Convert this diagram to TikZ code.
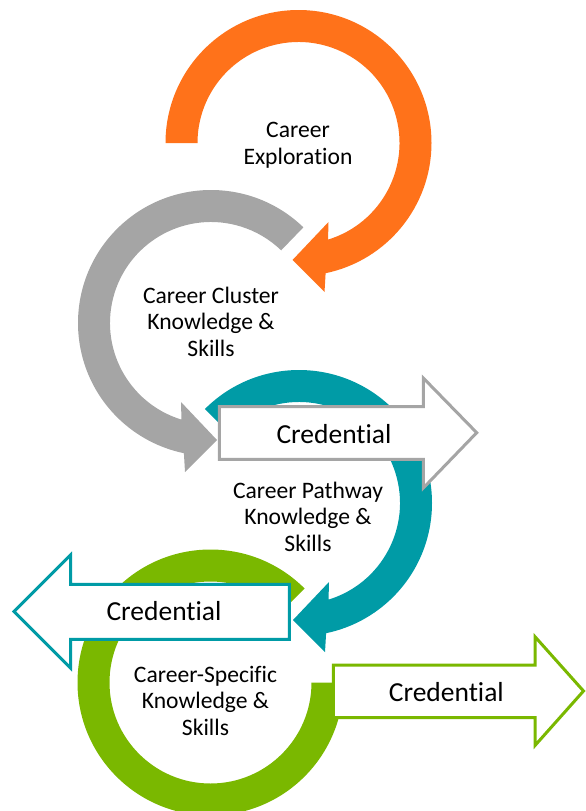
\documentclass[tikz,border=0pt]{standalone}
\usepackage{fontspec}
\setmainfont{Carlito}[Ligatures=NoCommon]
\definecolor{orangeC}{RGB}{255,114,26}
\definecolor{grayC}{RGB}{165,165,165}
\definecolor{tealC}{RGB}{0,155,166}
\definecolor{greenC}{RGB}{122,184,0}
\tikzset{
  label/.style={align=center, anchor=base, inner sep=0pt, font=\fontsize{23.6}{26.3}\selectfont},
  credtext/.style={anchor=base, inner sep=0pt, font=\fontsize{27.5}{30}\selectfont},
  credarrow/.style={fill=white, line width=3pt, miter limit=10, line join=miter}
}
\newcommand{\cwArrow}[3]{%
  \fill[#3] ($(#1)+(#2:133)$) arc[start angle=#2,end angle=-78.24,radius=133]
    -- ($(#1)+(26,-149)$) -- ($(#1)+(-6,-117)$) -- ($(#1)+(30,-79)$)
    -- ($(#1)+(-73:101)$) arc[start angle=-73,end angle=#2,radius=101] -- cycle;}
\newcommand{\ccwArrow}[3]{%
  \fill[#3] ($(#1)+(#2:133)$) arc[start angle=#2,end angle=258.24,radius=133]
    -- ($(#1)+(-26,-149)$) -- ($(#1)+(6,-117)$) -- ($(#1)+(-30,-79)$)
    -- ($(#1)+(253:101)$) arc[start angle=253,end angle=#2,radius=101] -- cycle;}
\usetikzlibrary{calc}
\begin{document}
\begin{tikzpicture}[x=1pt,y=1pt]
\useasboundingbox (0,0) rectangle (586,-811);
\coordinate (cO) at (298.5,-143);
\coordinate (cG) at (211,-323);
\coordinate (cT) at (299,-503);
\coordinate (cV) at (210.5,-682.5);
% orange
\cwArrow{cO}{180}{orangeC}
% gray
\ccwArrow{cG}{46}{grayC}
% teal
\cwArrow{cT}{135}{tealC}
% gray credential arrow
\draw[credarrow, draw=grayC] (219.3,-406.7) -- (423.3,-406.7) -- (423.3,-378) -- (476.7,-432.7)
  -- (423.3,-488) -- (423.3,-459.3) -- (219.3,-459.3) -- cycle;
% green ring
\fill[greenC] ($(cV)+(45:133)$) arc[start angle=45,end angle=360,radius=133]
  -- ($(cV)+(0:101)$) arc[start angle=360,end angle=45,radius=101] -- cycle;
% teal credential arrow
\draw[credarrow, draw=tealC] (289.3,-584.3) -- (70.5,-584.3) -- (70.5,-555) -- (14,-611.5)
  -- (70.5,-668) -- (70.5,-639.3) -- (289.3,-639.3) -- cycle;
% green credential arrow
\draw[credarrow, draw=greenC] (333.3,-665) -- (535,-665) -- (535,-636.7) -- (583.5,-691)
  -- (535,-745.5) -- (535,-717.7) -- (333.3,-717.7) -- cycle;
% texts
\node[credtext] (cr1) at (334,-443) {Credential};
\node[credtext] (cr2) at (164,-620) {Credential};
\node[credtext] (cr3) at (446.3,-701.7) {Credential};
\node[label] (l1) at (298,-164) {Career\\Exploration};
\node[label] (l2) at (211,-356) {Career Cluster\\Knowledge \&\\Skills};
\node[label] (l3) at (308,-551) {Career Pathway\\Knowledge \&\\Skills};
\node[label] (l4) at (205.5,-735) {Career-Specific\\Knowledge \&\\Skills};
\end{tikzpicture}
\end{document}
